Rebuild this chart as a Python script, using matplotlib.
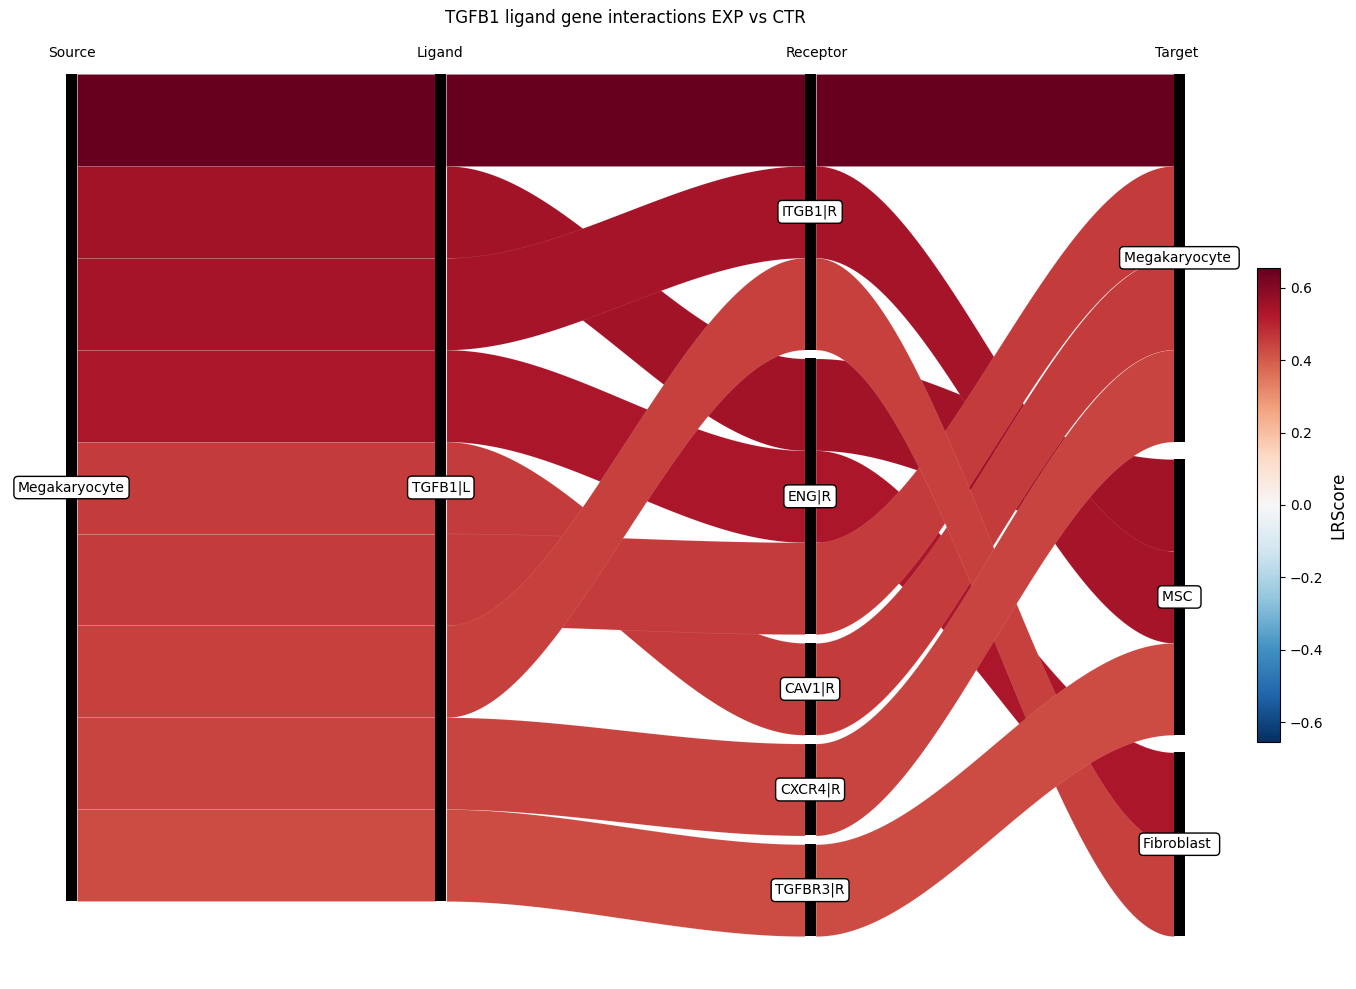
import numpy as np
import matplotlib
matplotlib.use('Agg')
import matplotlib.pyplot as plt
from matplotlib.colors import Normalize

# one row per interaction (source/ligand stacking follows row order)
sources   = ['Megakaryocyte'] * 9
ligands   = ['TGFB1|L'] * 9
receptors = ['ITGB1|R', 'ENG|R', 'ITGB1|R', 'ENG|R', 'CAV1|R',
             'ENG|R', 'ITGB1|R', 'CXCR4|R', 'TGFBR3|R']
targets   = ['Megakaryocyte ', 'MSC ', 'MSC ', 'Fibroblast ', 'Megakaryocyte ',
             'Megakaryocyte ', 'Fibroblast ', 'Megakaryocyte ', 'MSC ']
lr_score  = [0.654, 0.551, 0.543, 0.534, 0.455, 0.455, 0.448, 0.440, 0.426]
# stacking of rows inside the target nodes
target_stack = [0, 5, 4, 7, 1, 2, 8, 3, 6]

columns = ['Source', 'Ligand', 'Receptor', 'Target']
header_x = [0.0, 0.998, 2.017, 2.992]
TITLE = 'TGFB1 ligand gene interactions EXP vs CTR'

GAP_TOTAL = 0.381
BW = 0.03          # bar width in column units


def layout(names, order):
    """Return {row: (top, bottom)} and {node: (top, bottom)} for one column."""
    nodes = list(dict.fromkeys(names))
    gap = GAP_TOTAL / (len(nodes) - 1) if len(nodes) > 1 else 0.0
    pos, spans, y = {}, {}, 0.0
    for n in nodes:
        top = y
        for i in order:
            if names[i] == n:
                pos[i] = (y, y + 1.0)
                y += 1.0
        spans[n] = (top, y)
        y += gap
    return pos, spans


rows = list(range(len(lr_score)))
cols = [layout(sources, rows), layout(ligands, rows),
        layout(receptors, rows), layout(targets, target_stack)]

vmax = max(abs(v) for v in lr_score)
norm = Normalize(-vmax, vmax)
cmap = plt.get_cmap('RdBu_r')

fig = plt.figure(figsize=(13.56, 9.89), dpi=100)
ax = fig.add_axes([0, 0, 1, 1])
ax.set_xlim(-71.5 / 369.3, (1356 - 71.5) / 369.3)
ax.set_ylim((989 - 74) / 91.9, -74 / 91.9)
ax.axis('off')

t = np.linspace(0, 1, 200)
s = 3 * t**2 - 2 * t**3
for c in range(3):
    x0, x1 = c + BW / 2, c + 1 - BW / 2
    xs = x0 + (x1 - x0) * t
    for i in rows:
        (a0, b0), (a1, b1) = cols[c][0][i], cols[c + 1][0][i]
        top = a0 + (a1 - a0) * s
        bot = b0 + (b1 - b0) * s
        ax.fill_between(xs, top, bot, facecolor=cmap(norm(lr_score[i])),
                        edgecolor=(1, 1, 1, 0.15), lw=0.4, zorder=1)

for c in range(4):
    for n, (y0, y1) in cols[c][1].items():
        ax.add_patch(plt.Rectangle((c - BW / 2, y0), BW, y1 - y0,
                                   color='black', lw=0, zorder=3))
        ax.text(c, (y0 + y1) / 2, n, ha='center', va='center', fontsize=10, zorder=4,
                bbox=dict(boxstyle='round,pad=0.3', fc='white', ec='black', lw=1))
    ax.text(header_x[c], -0.228, columns[c], ha='center', va='center', fontsize=10)

ax.text(1.5, -0.609, TITLE, ha='center', va='center', fontsize=12)

cax = fig.add_axes([1257 / 1356, 1 - 742 / 989, 23 / 1356, 474 / 989])
sm = plt.cm.ScalarMappable(norm=norm, cmap=cmap)
cb = fig.colorbar(sm, cax=cax, ticks=[-0.6, -0.4, -0.2, 0.0, 0.2, 0.4, 0.6])
cb.set_label('LRScore', fontsize=12)
cb.ax.tick_params(labelsize=10)

fig.savefig('out.png', dpi=100)
